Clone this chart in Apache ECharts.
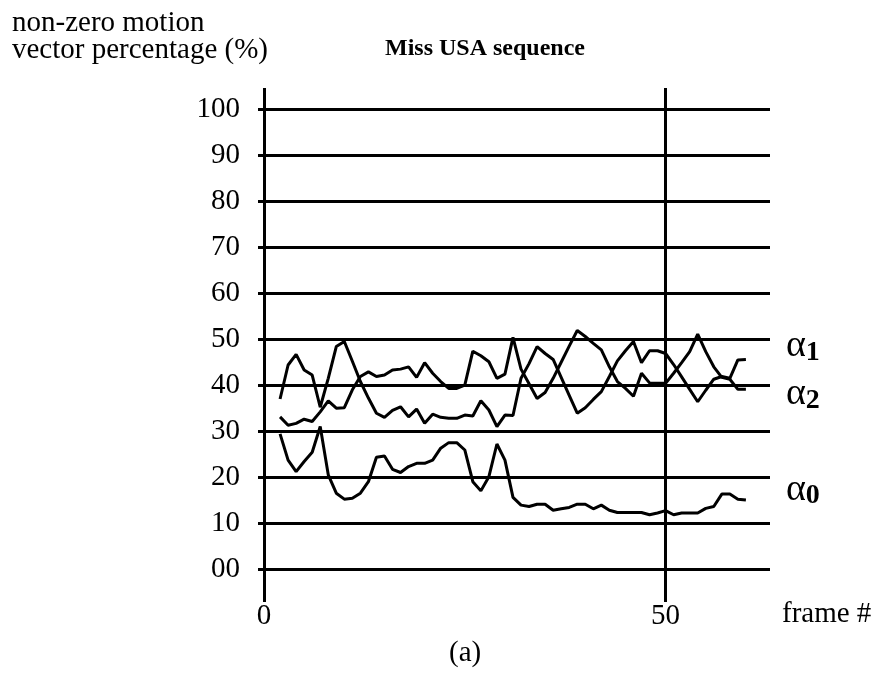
<!DOCTYPE html>
<html>
<head>
<meta charset="utf-8">
<script src="https://cdn.jsdelivr.net/npm/echarts@6/dist/echarts.min.js"></script>
<style>
  html, body { margin: 0; padding: 0; background: #fff; }
  #chart { width: 885px; height: 683px; }
</style>
</head>
<body>
<div id="chart"></div>
<script>
// Frame numbers of the Miss USA sequence
const frames = [2, 3, 4, 5, 6, 7, 8, 9, 10, 11,
  12, 13, 14, 15, 16, 17, 18, 19, 20, 21,
  22, 23, 24, 25, 26, 27, 28, 29, 30, 31,
  32, 33, 34, 35, 36, 37, 38, 39, 40, 41,
  42, 43, 44, 45, 46, 47, 48, 49, 50, 51,
  52, 53, 54, 55, 56, 57, 58, 59, 60];

// Non-zero motion vector percentage (%) per frame, for each alpha
const alpha1 = [37.0, 44.4, 46.7, 43.3, 42.2, 35.2, 41.5, 48.4, 49.5, 45.2,
  40.8, 37.2, 33.9, 33.0, 34.5, 35.3, 33.1, 34.8, 31.7, 33.7,
  33.0, 32.8, 32.8, 33.5, 33.3, 36.6, 34.6, 31.0, 33.5, 33.4,
  41.5, 44.7, 48.4, 46.9, 45.6, 41.7, 37.8, 33.9, 35.1, 36.9,
  38.6, 41.9, 45.3, 47.5, 49.5, 44.9, 47.5, 47.5, 46.9, 44.5,
  41.8, 39.1, 36.4, 38.9, 41.3, 41.9, 41.5, 45.5, 45.6];

const alpha2 = [33.1, 31.3, 31.7, 32.6, 32.1, 34.2, 36.6, 35.0, 35.1, 39.0,
  41.9, 42.9, 41.9, 42.2, 43.3, 43.5, 44.0, 41.7, 44.9, 42.6,
  40.8, 39.3, 39.3, 40.0, 47.4, 46.4, 45.1, 41.5, 42.4, 50.4,
  43.5, 40.3, 37.1, 38.4, 41.5, 45.0, 48.5, 51.9, 50.6, 49.1,
  47.7, 44.0, 40.8, 39.3, 37.6, 42.6, 40.5, 40.4, 40.4, 42.6,
  44.9, 47.3, 51.1, 47.3, 44.0, 41.7, 41.3, 39.1, 39.1];

const alpha0 = [29.4, 23.7, 21.2, 23.4, 25.4, 31.0, 20.5, 16.5, 15.2, 15.4,
  16.5, 19.0, 24.3, 24.6, 21.7, 21.0, 22.3, 23.0, 23.0, 23.7,
  26.3, 27.5, 27.5, 25.9, 19.0, 17.0, 20.1, 27.2, 23.7, 15.6,
  13.9, 13.6, 14.1, 14.1, 12.8, 13.1, 13.4, 14.1, 14.1, 13.1,
  13.9, 12.8, 12.3, 12.3, 12.3, 12.3, 11.8, 12.2, 12.7, 11.8,
  12.2, 12.2, 12.2, 13.2, 13.6, 16.3, 16.3, 15.2, 15.0];

const xTickLabels = ['0', '50'];
const yTickLabels = ['00', '10', '20', '30', '40', '50', '60', '70', '80', '90', '100'];

const FONT = "'Liberation Serif', 'Times New Roman', serif";
const INK = '#000';

function pairs(values) {
  return frames.map((f, i) => [f, values[i]]);
}

function alphaLabel(sub, dy) {
  return {
    show: true,
    distance: 40,
    offset: [0, dy],
    formatter: () => '{g|α}{s|' + sub + '}',
    rich: {
      g: { fontFamily: FONT, fontSize: 38, lineHeight: 40, color: INK },
      s: { fontFamily: FONT, fontSize: 28, fontWeight: 'bold', lineHeight: 20,
           verticalAlign: 'bottom', color: INK }
    }
  };
}

function lineSeries(name, values, sub, dy) {
  return {
    name: name,
    type: 'line',
    xAxisIndex: 0,
    yAxisIndex: 0,
    data: pairs(values),
    symbol: 'none',
    lineStyle: { color: INK, width: 3 },
    itemStyle: { color: INK },
    endLabel: alphaLabel(sub, dy),
    animation: false,
    z: 5
  };
}

const chart = echarts.init(document.getElementById('chart'), null, { renderer: 'canvas' });

chart.setOption({
  backgroundColor: '#fff',
  animation: false,
  title: [
    {
      text: 'Miss USA sequence',
      left: 385, top: 37, padding: 0,
      textStyle: { fontFamily: FONT, fontSize: 24, fontWeight: 'bold', color: INK, lineHeight: 24 }
    },
    {
      text: 'non-zero motion\nvector percentage (%)',
      left: 12, top: 10, padding: 0,
      textStyle: { fontFamily: FONT, fontSize: 29, fontWeight: 'normal', color: INK, lineHeight: 27 }
    },
    {
      text: 'frame #',
      left: 782, top: 600, padding: 0,
      textStyle: { fontFamily: FONT, fontSize: 29, fontWeight: 'normal', color: INK, lineHeight: 29 }
    },
    {
      text: '(a)',
      left: 449, top: 639, padding: 0,
      textStyle: { fontFamily: FONT, fontSize: 29, fontWeight: 'normal', color: INK, lineHeight: 29 }
    }
  ],
  grid: [
    // plotting area: 0..100 % vertically
    { left: 264, top: 109.5, width: 506, height: 459.5, containLabel: false },
    // frame of vertical rules, a little taller than the plotting area
    { left: 264, top: 88, width: 506, height: 514, containLabel: false }
  ],
  xAxis: [
    {
      gridIndex: 0, type: 'value', min: 0, max: 63, show: false
    },
    {
      gridIndex: 1, type: 'value', min: 0, max: 63, interval: 50,
      axisLine: { show: false },
      axisTick: { show: false },
      splitLine: { show: true, lineStyle: { color: [INK, INK, 'rgba(0,0,0,0)'], width: 3 } },
      axisLabel: {
        show: true, margin: 0, showMaxLabel: false,
        fontFamily: FONT, fontSize: 29, color: INK,
        formatter: v => (v === 0 ? xTickLabels[0] : v === 50 ? xTickLabels[1] : '')
      }
    }
  ],
  yAxis: [
    {
      gridIndex: 0, type: 'value', min: 0, max: 100, interval: 10,
      axisLine: { show: false },
      axisTick: { show: true, inside: false, length: 6, lineStyle: { color: INK, width: 3 } },
      splitLine: { show: true, lineStyle: { color: INK, width: 3 } },
      axisLabel: {
        show: true, margin: 24,
        fontFamily: FONT, fontSize: 29, color: INK,
        formatter: v => yTickLabels[Math.round(v / 10)]
      }
    },
    {
      gridIndex: 1, type: 'value', min: 0, max: 1, show: false
    }
  ],
  series: [
    lineSeries('α1', alpha1, '1', -13),
    lineSeries('α2', alpha2, '2', 5),
    lineSeries('α0', alpha0, '0', -10)
  ]
});
</script>
</body>
</html>
